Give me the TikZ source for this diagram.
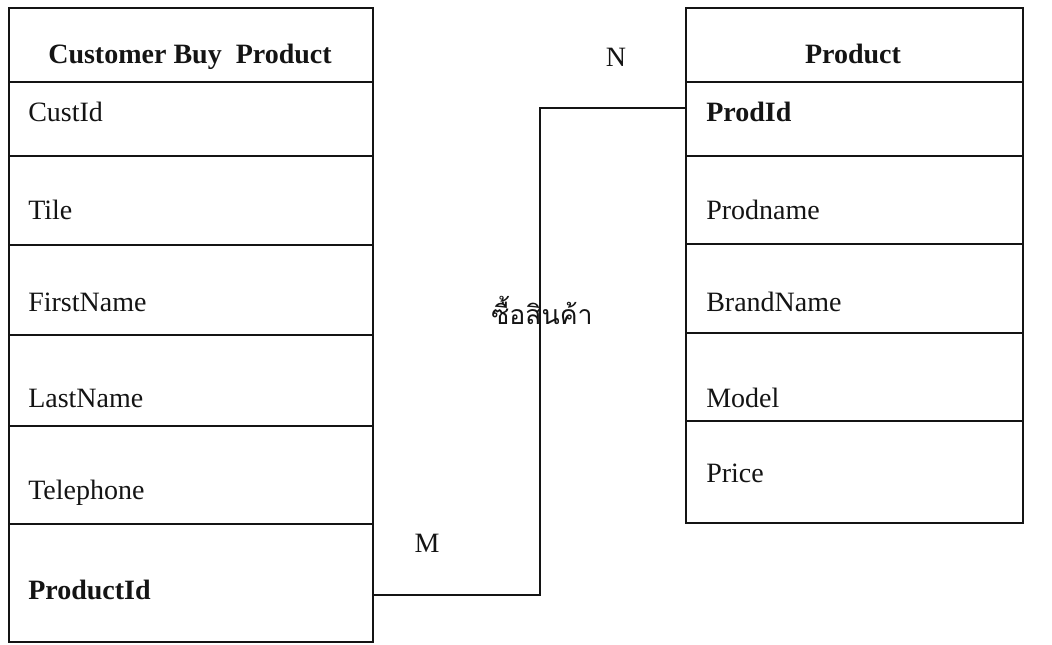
\documentclass[tikz,border=0pt]{standalone}
\usepackage{fontspec}
\setmainfont{Liberation Serif}
\newfontfamily\thaifont[Script=Thai]{Loma}
\usepackage{tikz}
\usetikzlibrary{positioning}
\definecolor{ink}{RGB}{20,20,20}
\tikzset{
  cell/.style={draw=ink,line width=1.2pt,minimum width=#1*0.75pt,inner sep=0pt,anchor=north west},
  fld/.style={font=\fontsize{21}{25}\selectfont,text=ink,anchor=base west,inner sep=0pt},
  head/.style={fld,font=\fontsize{21}{25}\selectfont\bfseries,anchor=base},
  card/.style={font=\fontsize{21}{25}\selectfont,text=ink,inner sep=0pt},
  link/.style={draw=ink,line width=1.2pt},
}

\begin{document}
\begin{tikzpicture}[x=0.75pt,y=-0.75pt]
  \useasboundingbox (0,0) rectangle (1052,644);
  % customer buy product
  \node[cell=364,minimum height=74*0.75pt] (lhead) at (8,7) {};
  \node[head] (lhead-t) at (190,63) {Customer Buy\ \ Product};
  \foreach \n/\y/\h/\b/\t in {
    lcust/81/74/121/CustId,
    ltile/155/89/219/Tile,
    lfirst/244/90/311/FirstName,
    llast/334/91/407/LastName,
    ltel/425/98/499/Telephone,
    lprod/523/118/599/{\bfseries ProductId}}
  {
    \node[cell=364,minimum height=\h*0.75pt] (\n) at (8,\y) {};
    \node[fld] (\n-t) at (28,\b) {\t};
  }
  % product
  \node[cell=337,minimum height=74*0.75pt] (rhead) at (685,7) {};
  \node[head] (rhead-t) at (853,63) {Product};
  \foreach \n/\y/\h/\b/\t in {
    rprod/81/74/121/{\bfseries ProdId},
    rname/155/88/219/Prodname,
    rbrand/243/89/311/BrandName,
    rmodel/332/88/407/Model,
    rprice/420/102/482/Price}
  {
    \node[cell=337,minimum height=\h*0.75pt] (\n) at (685,\y) {};
    \node[fld] (\n-t) at (706,\b) {\t};
  }
  % relationship
  \draw[link] (lprod.east |- 0,595) -- (540,595) |- (rprod.west |- 0,108);
  \node[card] (mcard) at (427,543) {M};
  \node[card] (ncard) at (616,57) {N};
  \node[card,font=\thaifont\fontsize{20}{24}\selectfont] (rel) at (542,310) {ซื้อสินค้า};
\end{tikzpicture}
\end{document}
